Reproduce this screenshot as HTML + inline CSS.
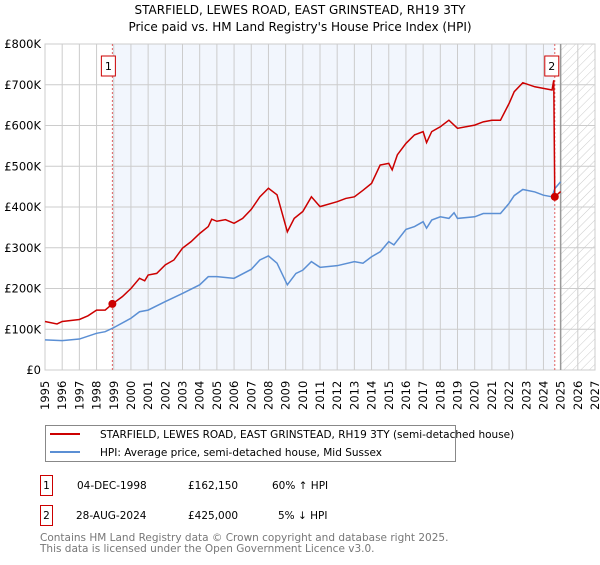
<!DOCTYPE html>
<html><head><meta charset="utf-8"><style>
body{margin:0;background:#fff;font-family:"Liberation Sans","DejaVu Sans",sans-serif;}
svg text{font-family:"DejaVu Sans","Liberation Sans",sans-serif;}
</style></head><body>
<svg id="chart" width="600" height="560" xmlns="http://www.w3.org/2000/svg">
<defs><pattern id="hatch" width="6" height="6" patternUnits="userSpaceOnUse" patternTransform="rotate(45)"><line x1="0" y1="0" x2="0" y2="6" stroke="#ccc" stroke-width="1"/></pattern></defs>
<text x="300" y="14" text-anchor="middle" font-size="12" fill="#000">STARFIELD, LEWES ROAD, EAST GRINSTEAD, RH19 3TY</text>
<text x="300" y="31" text-anchor="middle" font-size="12" fill="#000">Price paid vs. HM Land Registry's House Price Index (HPI)</text>
<g id="plot"></g>
<g>
<rect x="45.5" y="425.5" width="410" height="36" fill="#fff" stroke="#888"/>
<line x1="50" y1="434" x2="80" y2="434" stroke="#cc0000" stroke-width="2"/>
<text x="100" y="438" font-size="10.5">STARFIELD, LEWES ROAD, EAST GRINSTEAD, RH19 3TY (semi-detached house)</text>
<line x1="50" y1="452" x2="80" y2="452" stroke="#5b8fd4" stroke-width="2"/>
<text x="100" y="456" font-size="10.5">HPI: Average price, semi-detached house, Mid Sussex</text>
</g>
<g font-size="10.5">
<rect x="40.5" y="475.5" width="12" height="20" fill="#fff" stroke="#cc0000"/>
<text x="46.5" y="489" text-anchor="middle">1</text>
<text x="77" y="489">04-DEC-1998</text><text x="188" y="489">£162,150</text><text x="272" y="489">60% ↑ HPI</text>
<rect x="40.5" y="505.5" width="12" height="20" fill="#fff" stroke="#cc0000"/>
<text x="46.5" y="519" text-anchor="middle">2</text>
<text x="76" y="519">28-AUG-2024</text><text x="188" y="519">£425,000</text><text x="278" y="519">5% ↓ HPI</text>
</g>
<text x="40" y="541" font-size="10.5" fill="#777">Contains HM Land Registry data © Crown copyright and database right 2025.</text>
<text x="40" y="552" font-size="10.5" fill="#777">This data is licensed under the Open Government Licence v3.0.</text>
</svg>
<script>
const years=[1995,1996,1997,1998,1999,2000,2001,2002,2003,2004,2005,2006,2007,2008,2009,2010,2011,2012,2013,2014,2015,2016,2017,2018,2019,2020,2021,2022,2023,2024,2025,2026,2027];
const yTicks=[0,100,200,300,400,500,600,700,800];
const yTickLabels=["£0","£100K","£200K","£300K","£400K","£500K","£600K","£700K","£800K"];
const hpiT=[1995,1996,1997,1998,1998.5,1999,2000,2000.5,2001,2002,2003,2004,2004.5,2005,2006,2007,2007.5,2008,2008.5,2009.1,2009.6,2010,2010.5,2011,2012,2013,2013.5,2014,2014.5,2015,2015.3,2016,2016.5,2017,2017.2,2017.5,2018,2018.5,2018.8,2019,2020,2020.5,2021,2021.5,2022,2022.3,2022.8,2023.5,2024,2024.5,2024.66,2025];
const hpiV=[74,72,76,90,94,104,127,143,147,168,188,209,229,229,225,247,270,280,262,209,237,245,266,252,256,266,262,278,290,315,307,345,352,364,348,368,376,372,386,372,376,384,384,384,409,428,443,437,429,425,445,462];
const redT=[1995,1995.7,1996,1997,1997.5,1998,1998.5,1998.92,1999.5,2000,2000.5,2000.8,2001,2001.5,2002,2002.5,2003,2003.5,2004,2004.5,2004.7,2005,2005.5,2006,2006.5,2007,2007.5,2008,2008.5,2009.1,2009.5,2010,2010.5,2011,2012,2012.5,2013,2013.5,2014,2014.5,2015,2015.2,2015.5,2016,2016.5,2017,2017.2,2017.5,2018,2018.5,2019,2020,2020.5,2021,2021.5,2022,2022.3,2022.8,2023.5,2024,2024.5,2024.6,2024.66,2025];
const redV=[119,113,119,124,133,147,147,162,180,200,225,219,233,237,258,270,299,315,335,352,370,365,369,360,372,394,425,446,430,339,372,389,425,401,413,421,425,441,458,503,507,491,528,556,577,585,558,585,597,613,593,601,609,613,613,654,683,705,695,691,687,711,425,438];
const saleT=[1998.92,2024.66];
const saleV=[162.15,425];
const saleLabels=["1","2"];
const X0=45,X1=595,Y0=370,Y1=44;
const x=t=>X0+(t-1995)/(2027-1995)*(X1-X0);
const y=v=>Y0-v/800*(Y0-Y1);
const NS="http://www.w3.org/2000/svg";
const g=document.getElementById('plot');
function mk(tag,a,p){const e=document.createElementNS(NS,tag);for(const k in a)e.setAttribute(k,a[k]);(p||g).appendChild(e);return e;}
let e;
e=mk('rect',{x:X0,y:Y1,width:X1-X0,height:Y0-Y1,fill:'#fff'});
e=mk('rect',{x:x(saleT[0]),y:Y1,width:x(saleT[1])-x(saleT[0]),height:Y0-Y1,fill:'#f2f6fd'});


e=mk('rect',{x:x(2025),y:Y1,width:X1-x(2025),height:Y0-Y1,fill:'url(#hatch)'});


years.forEach(t=>{mk('line',{x1:x(t),x2:x(t),y1:Y1,y2:Y0,stroke:'#ccc','stroke-width':1});
 e=mk('text',{transform:`translate(${x(t)+4},${Y0+40}) rotate(-90)`,'font-size':'11.5'});e.textContent=t;
 
 });
yTicks.forEach((v,i)=>{mk('line',{x1:X0,x2:X1,y1:y(v),y2:y(v),stroke:'#ccc','stroke-width':1});
 e=mk('text',{x:X0-4,y:y(v)+4,'text-anchor':'end','font-size':'11.5'});e.textContent=yTickLabels[i];
 
 });
mk('rect',{x:X0,y:Y1,width:X1-X0,height:Y0-Y1,fill:'none',stroke:'#ccc'});
mk('line',{x1:x(2025),x2:x(2025),y1:Y1,y2:Y0,stroke:'#999','stroke-width':1.5});
saleT.forEach(t=>{e=mk('line',{x1:x(t),x2:x(t),y1:Y1,y2:Y0,stroke:'#e06060','stroke-dasharray':'2,2','stroke-width':1});
 
 });
e=mk('polyline',{points:hpiT.map((t,i)=>x(t)+','+y(hpiV[i])).join(' '),fill:'none',stroke:'#5b8fd4','stroke-width':1.5});


e=mk('polyline',{points:redT.map((t,i)=>x(t)+','+y(redV[i])).join(' '),fill:'none',stroke:'#cc0000','stroke-width':1.5});


saleT.forEach((t,i)=>{e=mk('circle',{cx:x(t),cy:y(saleV[i]),r:4,fill:'#cc0000'});
 
 
 const bx=x(t)-(i==0?4:3);
 e=mk('rect',{x:bx-7,y:56,width:14,height:20,fill:'#fff',stroke:'#cc0000'});
 
 
 e=mk('text',{x:bx,y:70,'text-anchor':'middle','font-size':'11'});e.textContent=saleLabels[i];
 
 });
</script>
</body></html>
